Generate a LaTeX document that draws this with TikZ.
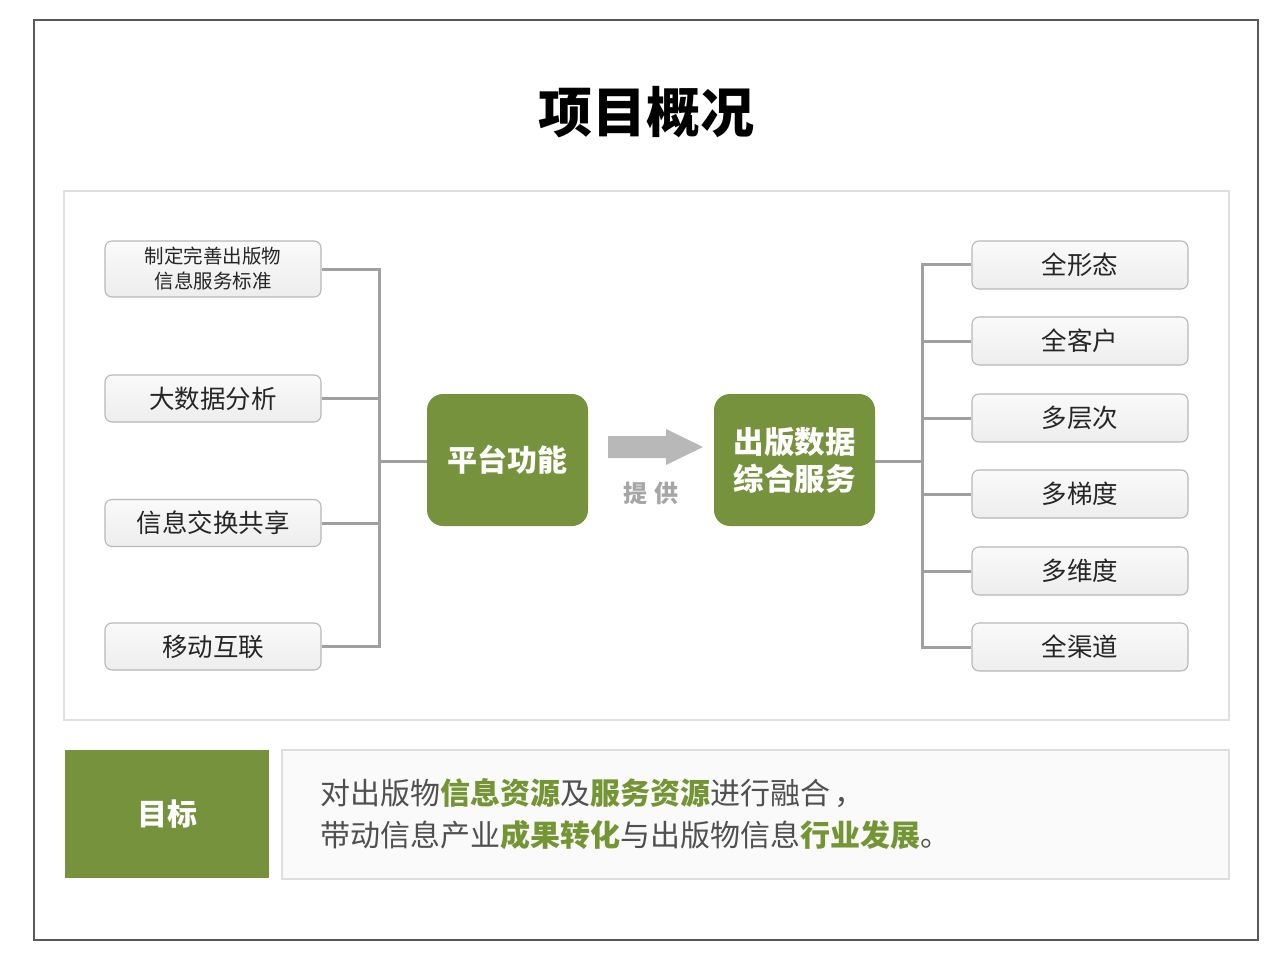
\documentclass[tikz,border=0pt]{standalone}
\usepackage{fontspec}
\setmainfont{Noto Sans CJK SC}
\definecolor{olive}{HTML}{76923C}
\definecolor{olivetxt}{HTML}{739534}
\definecolor{conn}{HTML}{A0A0A0}
\definecolor{boxline}{HTML}{B8B8B8}
\definecolor{bodytxt}{HTML}{505050}
\tikzset{
  itembox/.style={draw=boxline, line width=1.1pt, rounded corners=7pt,
    top color=white!96!gray, bottom color=gray!14, minimum width=216pt,
    inner sep=0pt, text=black!85, font=\fontsize{25.5}{28}\selectfont},
  greenbox/.style={fill=olive, rounded corners=16pt, minimum width=161pt,
    minimum height=132pt, inner sep=0pt, text=white, align=center,
    font=\fontsize{30}{36}\bfseries\selectfont},
  link/.style={draw=conn, line width=3pt}
}
\begin{document}
\begin{tikzpicture}[x=1pt,y=-1pt]
\useasboundingbox (0,0) rectangle (1280,960);
\fill[white] (0,0) rectangle (1280,960);
% outer frame
\draw[black!65, line width=1.2pt] (34,20) rectangle (1258,940);
% title
\node (title) at (646,112) {\fontsize{54}{60}\bfseries\selectfont 项目概况};
% inner panel
\draw[black!12, line width=1.5pt] (64,191) rectangle (1229,720);

% left items
\node[itembox, minimum height=56pt, align=center, font=\fontsize{19.5}{25}\selectfont] (l1) at (213,269) {制定完善出版物\\信息服务标准};
\node[itembox, minimum height=47pt] (l2) at (213,398.5) {大数据分析};
\node[itembox, minimum height=47pt] (l3) at (213,523) {信息交换共享};
\node[itembox, minimum height=47pt] (l4) at (213,646.5) {移动互联};

% right items
\node[itembox, minimum height=48pt] (r1) at (1080,265) {全形态};
\node[itembox, minimum height=48pt] (r2) at (1080,341) {全客户};
\node[itembox, minimum height=48pt] (r3) at (1080,418) {多层次};
\node[itembox, minimum height=48pt] (r4) at (1080,494) {多梯度};
\node[itembox, minimum height=48pt] (r5) at (1080,571) {多维度};
\node[itembox, minimum height=48pt] (r6) at (1080,647) {全渠道};

% green boxes
\node[greenbox] (pf) at (507.5,460) {平台功能};
\node[greenbox, font=\fontsize{30.5}{37}\bfseries\selectfont] (sv) at (794.5,460) {出版数据\\综合服务};

% left connectors
\coordinate (lbus) at (379,461);
\draw[link] (l1.east) -- (l1.east -| lbus) -- (l4.east -| lbus) -- (l4.east);
\draw[link] (l2.east) -- (l2.east -| lbus);
\draw[link] (l3.east) -- (l3.east -| lbus);
\draw[link] (lbus) -- (pf.west |- lbus);

% right connectors
\coordinate (rbus) at (922,461);
\draw[link] (sv.east |- rbus) -- (rbus);
\draw[link] (r1.west) -- (r1.west -| rbus) -- (r6.west -| rbus) -- (r6.west);
\draw[link] (r2.west) -- (r2.west -| rbus);
\draw[link] (r3.west) -- (r3.west -| rbus);
\draw[link] (r4.west) -- (r4.west -| rbus);
\draw[link] (r5.west) -- (r5.west -| rbus);

% block arrow
\fill[black!28] (608,436) -- (666,436) -- (666,429) -- (703,447) -- (666,465) -- (666,458) -- (608,458) -- cycle;
\node[text=black!35, font=\fontsize{24}{28}\bfseries\selectfont] (prov) at (651,493) {提\hspace{8pt}供};

% bottom
\node[fill=olive, minimum width=204pt, minimum height=128pt, inner sep=0pt, text=white, font=\fontsize{30}{36}\bfseries\selectfont] (goal) at (167,814) {目标};
\node[draw=black!13, line width=1.5pt, fill=black!2, minimum width=947pt, minimum height=129pt, inner sep=0pt] (goalbox) at (755.5,814.5) {};
\node[anchor=west, text=bodytxt, align=left, font=\fontsize{30}{42}\selectfont, inner sep=0pt] (goaltxt) at (320,814)
 {对出版物{\color{olivetxt}\bfseries 信息资源}及{\color{olivetxt}\bfseries 服务资源}进行融合\hspace{4pt}，\\
  带动信息产业{\color{olivetxt}\bfseries 成果转化}与出版物信息{\color{olivetxt}\bfseries 行业发展}。};
\end{tikzpicture}
\end{document}
